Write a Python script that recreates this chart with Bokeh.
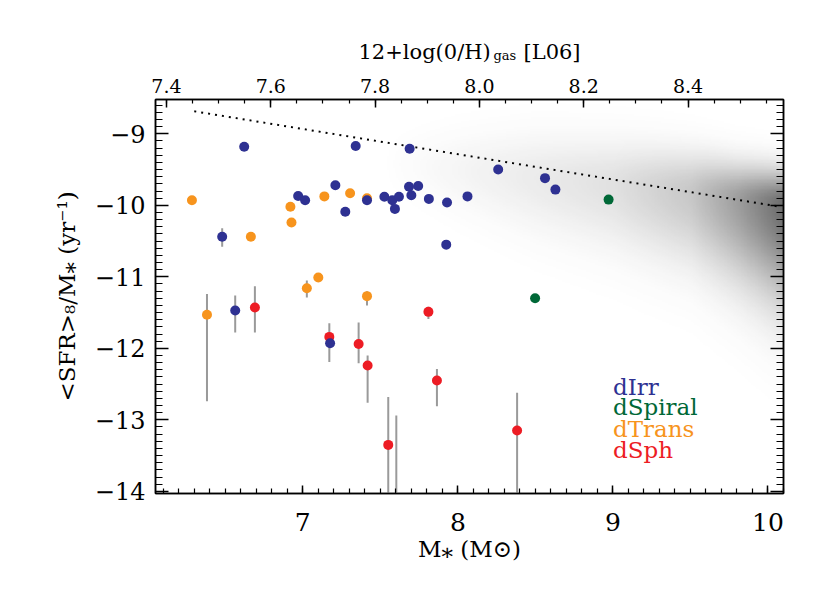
import numpy as np
from bokeh.plotting import figure
from bokeh.layouts import column
from bokeh.models import (Range1d, LinearAxis, SingleIntervalTicker, FixedTicker, Label)
from bokeh.embed import file_html
from bokeh.resources import INLINE

# ---------------- data ----------------
dirr_mass = [6.622, 7.341, 7.689, 7.210, 6.970, 7.015, 7.274, 7.414, 7.526, 7.577,
             7.620, 7.594, 7.685, 7.744, 7.700, 7.813, 7.930, 8.062, 7.925, 6.480,
             8.260, 8.562, 8.629, 6.564, 7.176]
dirr_ssfr = [-9.18, -9.17, -9.21, -9.72, -9.87, -9.93, -10.09, -9.93, -9.88, -9.93,
             -9.88, -10.05, -9.74, -9.73, -9.86, -9.91, -9.96, -9.875, -10.55, -10.44,
             -9.50, -9.62, -9.78, -11.47, -11.93]
dspiral_mass = [8.972, 8.498]
dspiral_ssfr = [-9.92, -11.30]
dtrans_mass = [6.285, 6.665, 6.920, 6.927, 7.139, 7.305, 7.414, 7.100, 7.026, 7.414, 6.382]
dtrans_ssfr = [-9.93, -10.44, -10.02, -10.24, -9.875, -9.83, -9.90, -11.01, -11.16, -11.27, -11.53]
dsph_mass = [6.691, 7.171, 7.360, 7.418, 7.810, 7.865, 7.551, 7.603, 8.382]
dsph_ssfr = [-11.43, -11.84, -11.94, -12.24, -11.49, -12.45, -13.35, -14.60, -13.15]

err_mass = [6.480, 6.382, 6.564, 6.691, 7.171, 7.360, 7.418, 7.810, 7.865, 7.551, 7.603, 8.382, 7.026, 7.414]
err_low = [-10.58, -12.74, -11.78, -11.78, -12.19, -12.21, -12.76, -11.59, -12.81, -15.0, -15.0, -15.0, -11.29, -11.40]
err_high = [-10.32, -11.24, -11.26, -11.13, -11.65, -11.64, -12.10, -11.42, -12.29, -12.68, -12.94, -12.62, -11.05, -11.20]

# upper-envelope (dotted) relation
line_mass = [6.30, 10.08]
line_ssfr = [-8.685, -10.02]

# grey SDSS cloud, described per mass bin
cloud_mass = [7.5, 8.0, 8.5, 9.0, 9.5, 9.8, 10.1]
cloud_mid = [-9.40, -9.50, -9.62, -9.72, -9.82, -9.92, -10.00]
cloud_sig_up = [0.25, 0.35, 0.42, 0.42, 0.38, 0.34, 0.32]
cloud_sig_dn = [0.25, 0.40, 0.52, 0.60, 0.68, 0.78, 0.90]
cloud_peak = [0.0, 0.04, 0.08, 0.12, 0.22, 0.38, 0.58]

# axes
x_range = (6.05, 10.1)
y_range = (-14.03, -8.52)
oh_range = (7.379, 8.583)
x_tick_values = [7, 8, 9, 10]
x_tick_labels = ["7", "8", "9", "10"]
y_tick_values = [-14, -13, -12, -11, -10, -9]
y_tick_labels = ["\u221214", "\u221213", "\u221212", "\u221211", "\u221210", "\u22129"]
top_tick_values = [7.4, 7.6, 7.8, 8.0, 8.2, 8.4]
top_tick_labels = ["7.4", "7.6", "7.8", "8.0", "8.2", "8.4"]

title_parts = ["12+log(0/H)", "gas", "[L06]"]

legend_names = ["dIrr", "dSpiral", "dTrans", "dSph"]
legend_colors = ["#2e3192", "#006837", "#f7941d", "#ed1c24"]

FONT = "DejaVu Serif"
W = 830
TITLE_H = 66
FRAME_L, FRAME_R = 155, 783

# ---------------- title strip (top axis title with subscript) ----------------
# its frame is aligned with the main plot's frame by the column layout,
# so the x range is expressed in page pixels of that frame
t = figure(width=W, height=TITLE_H, x_range=Range1d(FRAME_L, FRAME_R), y_range=Range1d(0, TITLE_H),
           output_backend="svg", toolbar_location=None, min_border=0,
           x_axis_location=None, y_axis_location=None)
t.grid.grid_line_color = None
t.outline_line_color = None
t.add_layout(Label(x=358, y=15, text=title_parts[0], text_font=FONT, text_font_size="21px",
                   text_align="left", text_baseline="alphabetic", text_color="black"))
t.add_layout(Label(x=493, y=11.5, text=title_parts[1], text_font=FONT, text_font_size="13px",
                   text_align="left", text_baseline="alphabetic", text_color="black"))
t.add_layout(Label(x=523, y=15, text=title_parts[2], text_font=FONT, text_font_size="21px",
                   text_align="left", text_baseline="alphabetic", text_color="black"))

# ---------------- main plot ----------------
p = figure(width=W, height=593 - TITLE_H, x_range=Range1d(*x_range), y_range=Range1d(*y_range),
           output_backend="svg", toolbar_location=None,
           x_axis_location=None, y_axis_location=None,
           min_border_left=FRAME_L, min_border_right=W - FRAME_R, min_border_top=99 - TITLE_H,
           min_border_bottom=100)
p.grid.grid_line_color = None
p.outline_line_color = "black"
p.outline_line_width = 1.5
p.background_fill_color = "white"
p.border_fill_color = "white"
p.extra_x_ranges = {"oh": Range1d(*oh_range)}

# ---- grey cloud image ----
nx, ny = 405, 276
xc = x_range[0] + (np.arange(nx) + 0.5) * (x_range[1] - x_range[0]) / nx
yc = y_range[0] + (np.arange(ny) + 0.5) * (y_range[1] - y_range[0]) / ny
pk = np.interp(xc, cloud_mass, cloud_peak)
md = np.interp(xc, cloud_mass, cloud_mid)
su = np.interp(xc, cloud_mass, cloud_sig_up)
sd = np.interp(xc, cloud_mass, cloud_sig_dn)
d = yc[:, None] - md[None, :]
sig = np.where(d > 0, su[None, :], sd[None, :])
v = pk[None, :] * np.exp(-0.5 * (d / sig) ** 2)
img = np.zeros((ny, nx), dtype=np.uint32)
view = img.view(dtype=np.uint8).reshape((ny, nx, 4))
view[..., 0:3] = 40
view[..., 3] = (np.clip(v * 255.0 / 215.0, 0, 1) * 255).astype(np.uint8)
p.image_rgba(image=[img], x=x_range[0], y=y_range[0],
             dw=x_range[1] - x_range[0], dh=y_range[1] - y_range[0])

# ---- dotted relation ----
p.line(line_mass, line_ssfr, line_color="black", line_width=2, line_dash="2 5")

# ---- error bars ----
p.segment(x0=err_mass, y0=err_low, x1=err_mass, y1=err_high, line_color="#9a9a9a", line_width=2)

# ---- points ----
p.scatter(dtrans_mass, dtrans_ssfr, size=10, fill_color=legend_colors[2], line_color=None)
p.scatter(dsph_mass, dsph_ssfr, size=10, fill_color=legend_colors[3], line_color=None)
p.scatter(dspiral_mass, dspiral_ssfr, size=10, fill_color=legend_colors[1], line_color=None)
p.scatter(dirr_mass, dirr_ssfr, size=10, fill_color=legend_colors[0], line_color=None)


def style(ax, major_in, minor_in, fsize):
    ax.major_tick_in = major_in
    ax.major_tick_out = 0
    ax.minor_tick_in = minor_in
    ax.minor_tick_out = 0
    ax.axis_line_width = 1.5
    ax.axis_line_color = "black"
    ax.major_tick_line_width = 1.5
    ax.minor_tick_line_width = 1.2
    ax.major_tick_line_color = "black"
    ax.minor_tick_line_color = "black"
    ax.major_label_text_font = FONT
    ax.major_label_text_font_size = fsize
    ax.major_label_text_color = "black"
    ax.axis_label_text_font = FONT
    ax.axis_label_text_font_style = "normal"
    ax.axis_label_text_color = "black"


bottom = LinearAxis(ticker=SingleIntervalTicker(interval=1, num_minor_ticks=10),
                    major_label_overrides=dict(zip(x_tick_values, x_tick_labels)))
style(bottom, 8, 5, "25px")
bottom.major_label_standoff = 19
bottom.axis_label = "M\u204e (M\u2299)"
bottom.axis_label_text_font_size = "23px"
bottom.axis_label_standoff = 2
p.add_layout(bottom, "below")

left = LinearAxis(ticker=SingleIntervalTicker(interval=1, num_minor_ticks=10),
                  major_label_overrides=dict(zip(y_tick_values, y_tick_labels)))
style(left, 13, 7, "24px")
left.major_label_standoff = 10
left.axis_label = "<SFR>\u2088/M\u204e (yr\u207b\u00b9)"
left.axis_label_text_font_size = "23px"
left.axis_label_standoff = 12
p.add_layout(left, "left")

right = LinearAxis(ticker=SingleIntervalTicker(interval=1, num_minor_ticks=10),
                   major_label_overrides={tv: "" for tv in y_tick_values})
style(right, 13, 7, "24px")
p.add_layout(right, "right")

top_minor = [round(top_tick_values[0] - 0.05 + 0.05 * k, 2) for k in range(26)]
top = LinearAxis(x_range_name="oh",
                 ticker=FixedTicker(ticks=top_tick_values, minor_ticks=top_minor),
                 major_label_overrides=dict(zip(top_tick_values, top_tick_labels)))
style(top, 8, 4, "19px")
top.major_label_standoff = 7
p.add_layout(top, "above")

# ---- legend as coloured words ----
legend_y = [-12.543, -12.822, -13.124, -13.427]
for name, col, yy in zip(legend_names, legend_colors, legend_y):
    p.add_layout(Label(x=9.0, y=yy, text=name, text_align="left", text_baseline="alphabetic",
                       text_font=FONT, text_font_size="23px", text_color=col))

layout = column(t, p, spacing=0)
open("out.html", "w").write(file_html(layout, INLINE))
